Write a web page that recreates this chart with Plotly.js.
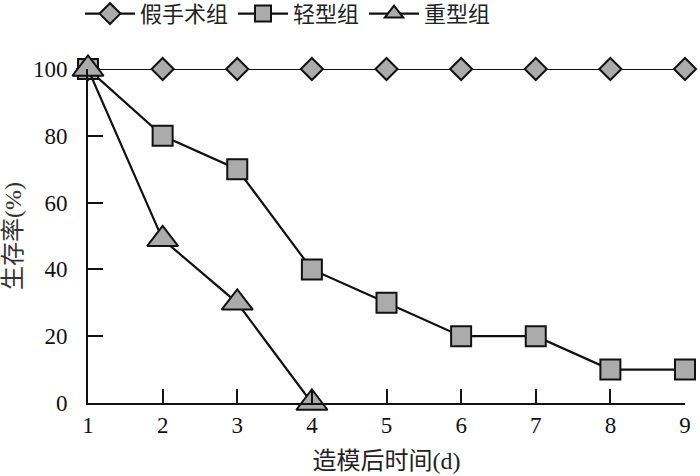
<!DOCTYPE html>
<html>
<head>
<meta charset="utf-8">
<script src="https://cdn.plot.ly/plotly-3.0.1.min.js"></script>
<style>html,body{margin:0;padding:0;background:#fff;}#chart{width:700px;height:476px;}</style>
</head>
<body>
<div id="chart"></div>
<script>
var days = [1, 2, 3, 4, 5, 6, 7, 8, 9];
var shamName = "假手术组";
var shamValues = [100, 100, 100, 100, 100, 100, 100, 100, 100];
var mildName = "轻型组";
var mildValues = [100, 80, 70, 40, 30, 20, 20, 10, 10];
var severeName = "重型组";
var severeDays = [1, 2, 3, 4];
var severeValues = [100, 49, 30, 0];
var yTicks = [0, 20, 40, 60, 80, 100];
var xTitle = "造模后时间(d)";
var yTitle = "生存率(%)";

var FONT = "Liberation Serif, 'Times New Roman', 'Noto Sans CJK SC', serif";
var fill = "#ababab";
function mk(sym, size) {
  return {symbol: sym, size: size, color: fill, line: {color: "#111", width: 2}};
}
var traces = [
  {x: days, y: shamValues, name: shamName, type: "scatter", mode: "lines+markers",
   line: {color: "#111", width: 2.2}, marker: mk("diamond", 17), cliponaxis: false},
  {x: days, y: mildValues, name: mildName, type: "scatter", mode: "lines+markers",
   line: {color: "#111", width: 2.2}, marker: mk("square", 20), cliponaxis: false},
  {x: severeDays, y: severeValues, name: severeName, type: "scatter", mode: "lines+markers",
   line: {color: "#111", width: 2.2}, marker: mk("triangle-up", 27), cliponaxis: false}
];
var layout = {
  width: 700, height: 476,
  margin: {l: 88, r: 15, t: 69, b: 73},
  paper_bgcolor: "#fff", plot_bgcolor: "#fff",
  font: {family: FONT, size: 23, color: "#111"},
  showlegend: true,
  legend: {orientation: "h", x: 0.335, xanchor: "center", y: 0.971, yanchor: "middle",
           yref: "container", font: {family: FONT, size: 22, color: "#222"},
           itemwidth: 50, tracegroupgap: 0, bgcolor: "rgba(0,0,0,0)"},
  xaxis: {range: [1, 9], tickvals: days, ticks: "inside", ticklen: 14, tickwidth: 2,
          tickcolor: "#111", showline: true, linecolor: "#111", linewidth: 2,
          showgrid: false, zeroline: false, mirror: false,
          tickfont: {family: FONT, size: 23, color: "#111"},
          title: {text: xTitle, font: {family: FONT, size: 24, color: "#222"}, standoff: 16}},
  yaxis: {range: [0, 100], tickvals: yTicks, ticks: "inside", ticklen: 15, tickwidth: 2,
          tickcolor: "#111", showline: true, linecolor: "#111", linewidth: 2,
          showgrid: false, zeroline: false, ticklabelstandoff: 14,
          tickfont: {family: FONT, size: 23, color: "#111"},
          title: {text: yTitle, font: {family: FONT, size: 24, color: "#333"}, standoff: 6}}
};
Plotly.newPlot("chart", traces, layout, {displayModeBar: false, staticPlot: true});
</script>
</body>
</html>
